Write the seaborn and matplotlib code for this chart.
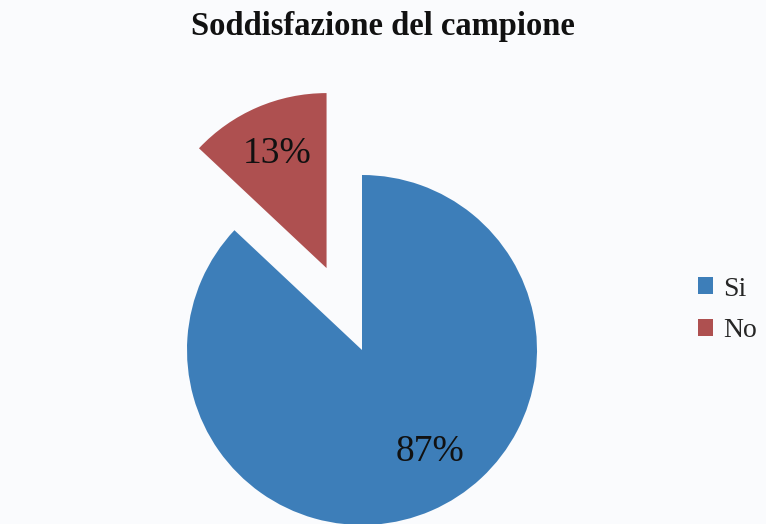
import matplotlib
matplotlib.use("Agg")
import matplotlib.pyplot as plt
from matplotlib.patches import Patch
import numpy as np
import seaborn as sns

# Survey answers and their shares (%)
categories = ["Si", "No"]
shares = [87, 13]
colors = ["#3D7EB9", "#AE5050"]
explode_by = [0.0, 0.51]

sns.set_theme(style="white")
plt.rcParams["font.family"] = ["Liberation Serif", "DejaVu Serif"]

bg = "#FAFBFD"
fig = plt.figure(figsize=(7.66, 5.24), dpi=100, facecolor=bg)
W, H = 766, 524
R = 175.0  # pie radius in pixels
cx, cy = 362, 524 - 350  # pie centre in pixels (from bottom-left)

ax = fig.add_axes([0, 0, 2 * cx / W, 2 * cy / H])
ax.set_facecolor(bg)

wedges, texts, autotexts = ax.pie(
    shares,
    colors=colors,
    explode=explode_by,
    startangle=90,
    counterclock=False,
    autopct="%d%%",
    pctdistance=0.71,
    textprops=dict(fontsize=27, color="#111111"),
    wedgeprops=dict(linewidth=0),
    normalize=True,
)
ax.set_xlim(-cx / R, cx / R)
ax.set_ylim(-cy / R, cy / R)
ax.axis("off")
for w in wedges:
    w.set_clip_on(False)
for t in autotexts:
    t.set_clip_on(False)

# the big slice label sits lower-right of the centre
ang = np.deg2rad(-56.5)
autotexts[0].set_position((0.70 * np.cos(ang), 0.70 * np.sin(ang)))

fig.text(383 / W, 1 - 27 / H, "Soddisfazione del campione",
         ha="center", va="center", fontsize=23.5, fontweight="bold",
         color="#111111")

handles = [Patch(facecolor=c, edgecolor="none") for c in colors]
fig.legend(handles, categories, loc="center left",
           bbox_to_anchor=(0.893, 1 - 310 / H), frameon=False,
           fontsize=20, handlelength=0.55, handleheight=0.55,
           handletextpad=0.35, labelspacing=0.6, borderpad=0)

fig.savefig("out.png", dpi=100, facecolor=bg)
